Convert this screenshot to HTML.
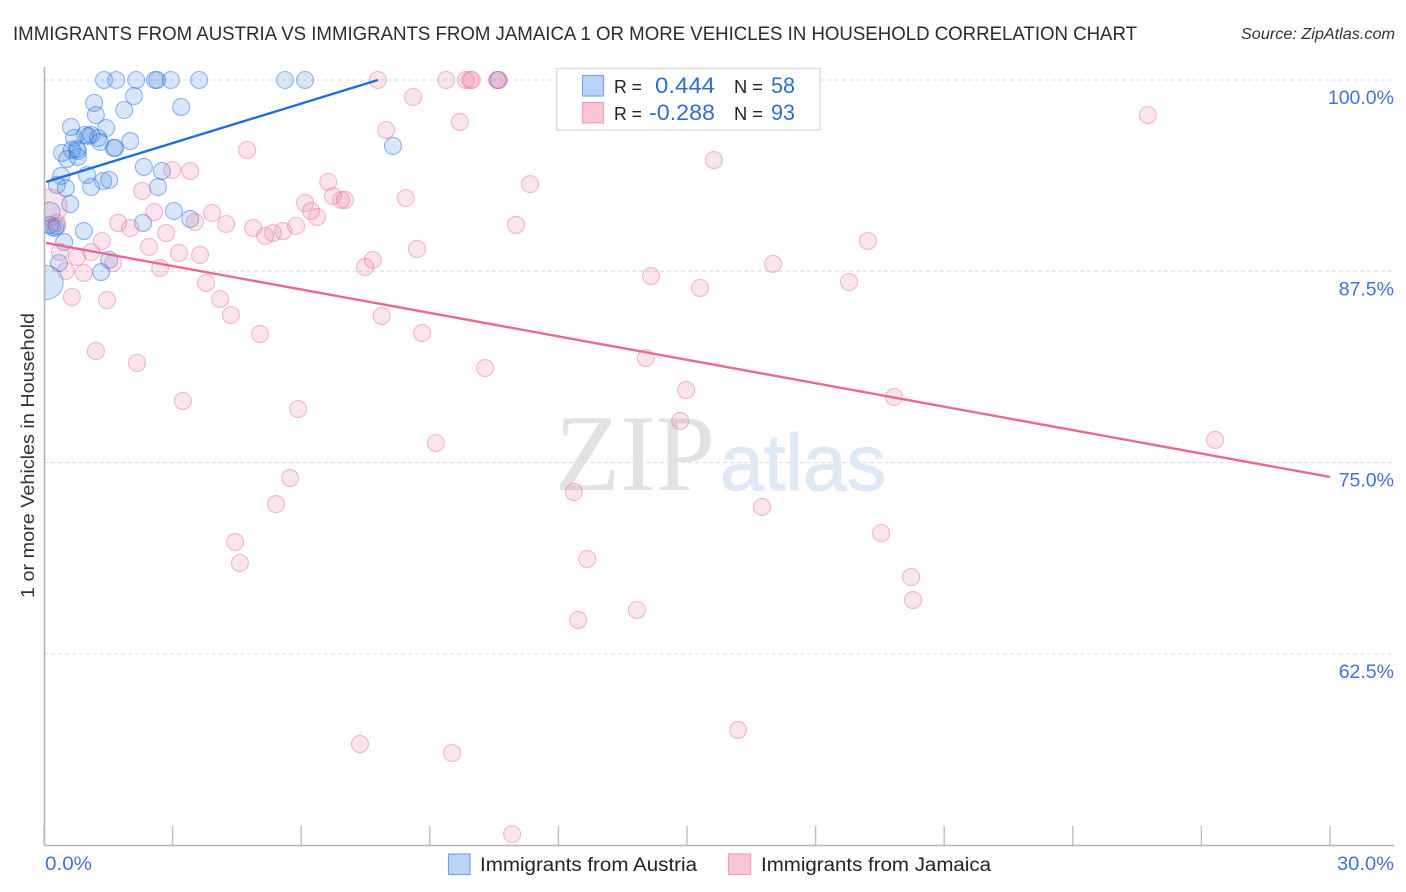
<!DOCTYPE html>
<html lang="en">
<head>
<meta charset="utf-8">
<title>Immigrants from Austria vs Immigrants from Jamaica correlation chart</title>
<style>
html,body{margin:0;padding:0;background:#fff;}
svg{display:block;font-family:"Liberation Sans",sans-serif;}
</style>
</head>
<body>
<svg id="chart" xmlns="http://www.w3.org/2000/svg" width="1406" height="892" viewBox="0 0 1406 892">
  <defs>
    <clipPath id="plot-clip"><rect x="45" y="60" width="1349" height="785"/></clipPath>
  </defs>
  <rect x="0" y="0" width="1406" height="892" fill="#ffffff"/>
  <text x="13" y="40" font-size="19.5" fill="#2b2b2b" textLength="1124" lengthAdjust="spacingAndGlyphs">IMMIGRANTS FROM AUSTRIA VS IMMIGRANTS FROM JAMAICA 1 OR MORE VEHICLES IN HOUSEHOLD CORRELATION CHART</text>
  <text x="1241" y="39" font-size="15.5" font-style="italic" fill="#333333" textLength="154" lengthAdjust="spacingAndGlyphs">Source: ZipAtlas.com</text>

  <g id="grid"></g>

  <g>
    <text x="555" y="490" font-family="'Liberation Serif',serif" font-size="109" fill="#e2e2e2" textLength="160" lengthAdjust="spacingAndGlyphs">ZIP</text>
    <text x="720" y="490" font-size="80" fill="#dee9f8" stroke="#dee9f8" stroke-width="1" textLength="166" lengthAdjust="spacingAndGlyphs">atlas</text>
  </g>

  <g id="axes"></g>
  <g id="marks" clip-path="url(#plot-clip)"></g>
  <g id="trends"></g>
  <g id="tick-labels"></g>

  <text transform="translate(34,598) rotate(-90)" font-size="18.5" fill="#333333" textLength="285" lengthAdjust="spacingAndGlyphs">1 or more Vehicles in Household</text>

  <g>
    <rect x="556.5" y="68.5" width="263.5" height="61.5" fill="#ffffff" stroke="#dddddd" stroke-width="1.5"/>
    <rect x="582.5" y="75.5" width="21" height="20.5" fill="#b9d4f8" stroke="#74a6e6" stroke-width="1.2"/>
    <rect x="582.5" y="102.5" width="21" height="20.5" fill="#fcc6d8" stroke="#f0a0bc" stroke-width="1.2"/>
    <text x="614" y="93" font-size="18" fill="#222222" textLength="28" lengthAdjust="spacingAndGlyphs">R =</text>
    <text x="655" y="93" font-size="22" fill="#2f6fd0" textLength="60" lengthAdjust="spacingAndGlyphs">0.444</text>
    <text x="734" y="93" font-size="18" fill="#222222" textLength="29" lengthAdjust="spacingAndGlyphs">N =</text>
    <text x="771" y="93" font-size="22" fill="#2f6fd0" textLength="24" lengthAdjust="spacingAndGlyphs">58</text>
    <text x="614" y="120" font-size="18" fill="#222222" textLength="28" lengthAdjust="spacingAndGlyphs">R =</text>
    <text x="649" y="120" font-size="22" fill="#2f6fd0" textLength="66" lengthAdjust="spacingAndGlyphs">-0.288</text>
    <text x="734" y="120" font-size="18" fill="#222222" textLength="29" lengthAdjust="spacingAndGlyphs">N =</text>
    <text x="771" y="120" font-size="22" fill="#2f6fd0" textLength="24" lengthAdjust="spacingAndGlyphs">93</text>
  </g>

  <g>
    <g>
      <rect x="448.5" y="854" width="21.5" height="20.5" fill="#b9d4f8" stroke="#74a6e6" stroke-width="1.2"/>
      <text x="480" y="871" font-size="19" fill="#222222" textLength="217" lengthAdjust="spacingAndGlyphs">Immigrants from Austria</text>
    </g>
    <g>
      <rect x="728.5" y="854" width="22" height="20.5" fill="#fcc6d8" stroke="#f0a0bc" stroke-width="1.2"/>
      <text x="761" y="871" font-size="19" fill="#222222" textLength="230" lengthAdjust="spacingAndGlyphs">Immigrants from Jamaica</text>
    </g>
  </g>
</svg>

<script>
const austriaX = [1.40,1.68,2.15,2.59,2.64,2.96,3.62,5.62,6.09,10.59,2.10,1.17,3.20,1.87,1.21,1.45,0.63,2.01,0.70,0.96,1.10,1.03,1.26,1.31,1.63,1.66,0.77,0.79,0.42,0.65,0.54,0.79,2.33,2.75,0.40,1.00,1.52,1.38,0.30,0.51,1.10,2.66,0.61,3.03,3.41,2.31,0.93,0.14,0.14,0.19,0.26,0.30,0.47,0.35,1.52,1.33,0.05,8.14];
const austriaY = [100,100,100,100,100,100,100,100,100,100,98.95,98.50,98.24,98.04,97.71,96.86,96.93,96.01,96.21,96.41,96.41,96.34,96.21,95.95,95.56,95.56,95.49,95.36,95.23,95.43,94.84,94.97,94.32,94.05,93.73,93.79,93.47,93.40,93.14,92.94,93.01,93.01,91.90,91.44,90.92,90.66,90.13,91.37,90.53,90.39,90.33,90.46,89.41,88.04,88.24,87.45,86.77,95.69];
const jamaicaX = [7.79,9.38,9.84,9.94,9.98,10.57,10.61,8.61,7.98,9.70,25.75,4.74,15.63,2.99,3.41,6.63,2.29,11.34,6.09,8.44,6.74,6.93,7.02,6.23,6.37,8.70,7.67,7.49,4.88,5.88,5.58,5.34,5.16,4.25,3.52,3.92,2.57,1.73,2.01,2.85,11.01,19.22,1.35,2.45,1.10,3.15,3.64,0.37,0.77,1.61,2.71,0.51,0.93,3.78,14.16,15.30,18.78,17.01,0.65,1.47,4.11,4.36,7.88,5.04,8.82,1.21,14.04,2.17,10.29,14.98,3.24,19.83,5.93,14.84,9.14,27.32,5.74,12.36,5.41,16.75,19.53,4.46,4.57,12.67,20.23,20.27,12.46,13.83,7.37,16.19,9.52,10.92,0.12,0.30];
const jamaicaY = [100,100,100,100,100,100,100,98.89,96.73,97.26,97.71,95.43,94.77,94.12,94.05,93.34,92.75,93.20,91.96,92.29,92.42,92.16,92.16,91.44,91.05,88.96,88.24,87.78,90.33,90.46,90.13,90.00,89.81,90.59,90.72,91.31,91.37,90.66,90.33,90.00,90.53,89.48,89.48,89.09,88.76,88.70,88.57,88.76,88.43,88.04,87.72,87.52,87.39,86.74,87.19,86.41,86.80,87.98,85.82,85.62,85.69,84.64,84.58,83.40,83.47,82.29,81.83,81.51,81.18,79.74,79.03,79.29,78.50,77.72,76.28,76.48,73.99,73.08,72.29,72.10,70.40,69.81,68.44,68.70,67.52,66.02,64.72,65.37,56.61,57.53,56.02,50.73,91.70,90.66];
const austriaLargeIndex = [47,56];
const austriaLargeWeight = [1.4,4];
const jamaicaLargeIndex = [92];
const jamaicaLargeWeight = [4.5];
const austriaTrendX = [0.05,7.79];
const austriaTrendY = [93.34,100];
const jamaicaTrendX = [0.05,30];
const jamaicaTrendY = [89.35,74.06];
const xTicks = [0,3,6,9,12,15,18,21,24,27,30];
const xTickLabels = ["0.0%","30.0%"];
const xLabelValues = [0,30];
const yTicks = [100,87.5,75,62.5];
const yTickLabels = ["100.0%","87.5%","75.0%","62.5%"];

const SVG_NS = "http://www.w3.org/2000/svg";
function xScale(v){ return 44 + v * (1286 / 30); }
function yScale(v){ return 80 + (100 - v) * (191.3 / 12.5); }
function make(tag, attrs, parent){
  const el = document.createElementNS(SVG_NS, tag);
  for (const k in attrs) el.setAttribute(k, attrs[k]);
  parent.appendChild(el);
  return el;
}
const gridG = document.getElementById("grid");
const axesG = document.getElementById("axes");
const marksG = document.getElementById("marks");
const trendsG = document.getElementById("trends");
const labelsG = document.getElementById("tick-labels");

yTicks.forEach(function(v){
  const line = make("line", {x1:44, x2:1394, y1:yScale(v), y2:yScale(v), stroke:"#dcdcdc", "stroke-width":1, "stroke-dasharray":"4 3"}, gridG);
  
  
});

const yAxis = make("line", {x1:44.5, x2:44.5, y1:67, y2:846, stroke:"#b5b5b5", "stroke-width":1.6}, axesG);


const xAxis = make("line", {x1:44, x2:1394, y1:845.5, y2:845.5, stroke:"#b5b5b5", "stroke-width":1.6}, axesG);


xTicks.forEach(function(v){
  const t = make("line", {x1:xScale(v), x2:xScale(v), y1:826, y2:845, stroke:"#bdbdbd", "stroke-width":1.4}, axesG);
  
  
});

function drawSeries(xs, ys, largeIndex, largeWeight, fill, stroke, strokeOpacity, name){
  xs.forEach(function(x, i){
    const li = largeIndex.indexOf(i);
    const w = li >= 0 ? largeWeight[li] : 1;
    const c = make("circle", {cx:xScale(x), cy:yScale(ys[i]), r:8.5 * Math.sqrt(w), fill:fill, "fill-opacity":0.2, stroke:stroke, "stroke-opacity":strokeOpacity, "stroke-width":1.1}, marksG);
    
    
  });
}
drawSeries(austriaX, austriaY, austriaLargeIndex, austriaLargeWeight, "#3b80e2", "#2f74dc", 0.5, "austria-point");
drawSeries(jamaicaX, jamaicaY, jamaicaLargeIndex, jamaicaLargeWeight, "#f0789f", "#e5608f", 0.42, "jamaica-point");

const blueTrend = make("line", {x1:xScale(austriaTrendX[0]), y1:yScale(austriaTrendY[0]), x2:xScale(austriaTrendX[1]), y2:yScale(austriaTrendY[1]), stroke:"#1f6fd8", "stroke-width":2.4}, trendsG);


const pinkTrend = make("line", {x1:xScale(jamaicaTrendX[0]), y1:yScale(jamaicaTrendY[0]), x2:xScale(jamaicaTrendX[1]), y2:yScale(jamaicaTrendY[1]), stroke:"#e9689c", "stroke-width":2.4}, trendsG);



yTickLabels.forEach(function(label, i){
  const t = make("text", {x:1394, y:yScale(yTicks[i]) + 24, "text-anchor":"end", "font-size":19.5, fill:"#3f74d2"}, labelsG);
  t.textContent = label;
  
  
});
xTickLabels.forEach(function(label, i){
  const isLast = xLabelValues[i] === 30;
  const t = make("text", {x:isLast ? 1337 : 45, y:870, "font-size":19.5, fill:"#3f74d2", textLength:isLast ? 57 : 47, lengthAdjust:"spacingAndGlyphs"}, labelsG);
  t.textContent = label;
  
  
});
</script>
</body>
</html>
